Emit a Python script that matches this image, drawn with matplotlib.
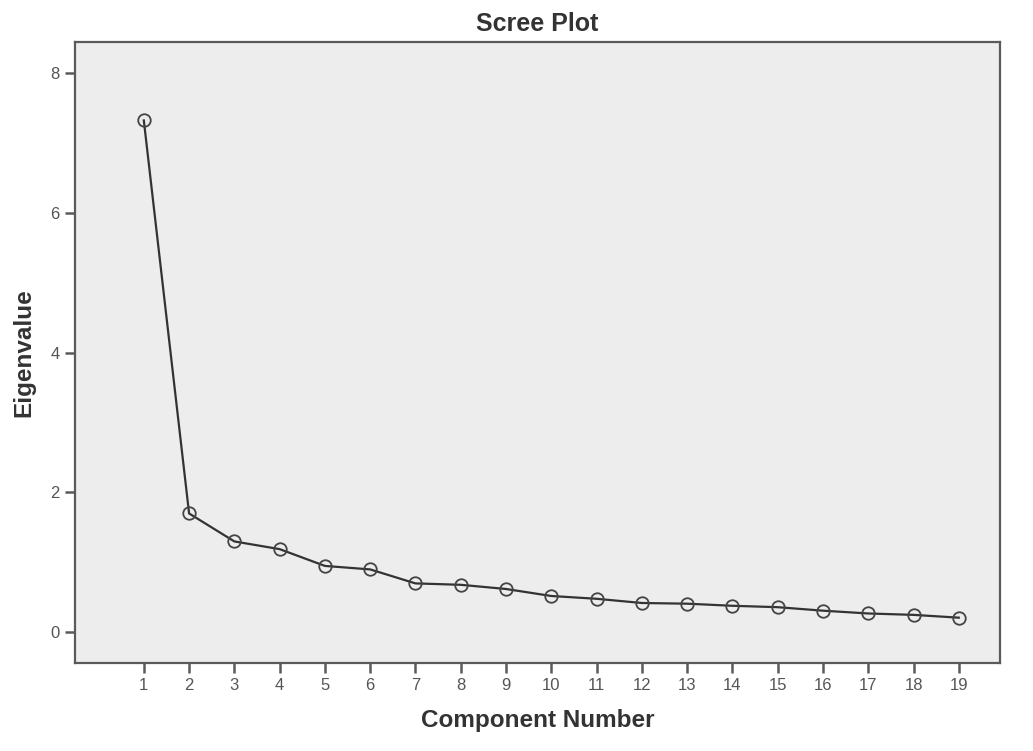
import matplotlib
matplotlib.use("Agg")
import matplotlib.pyplot as plt
import numpy as np

# Scree plot: eigenvalue per component
components = np.arange(1, 20)
eigenvalues = [7.32, 1.70, 1.30, 1.19, 0.95, 0.90, 0.70, 0.68, 0.62, 0.52,
               0.48, 0.42, 0.41, 0.38, 0.36, 0.31, 0.27, 0.25, 0.21]
y_ticks = [0, 2, 4, 6, 8]

plt.rcParams['font.family'] = ['Liberation Sans', 'DejaVu Sans']

fig = plt.figure(figsize=(10.33, 7.51), dpi=100)
ax = fig.add_axes([0.0726, 0.117, 0.895, 0.827])
ax.set_facecolor("#ededed")

ax.plot(components, eigenvalues, color="#333333", linewidth=1.6,
        marker="o", markersize=9, markerfacecolor="none",
        markeredgecolor="#444444", markeredgewidth=1.3)

ax.set_xlim(-0.52, 19.9)
ax.set_ylim(-0.44, 8.44)
ax.set_xticks(components)
ax.set_yticks(y_ticks)

for s in ax.spines.values():
    s.set_color("#5a5a5a")
    s.set_linewidth(1.6)

ax.tick_params(direction="out", length=7, width=1.8, color="#5a5a5a",
               labelsize=12, labelcolor="#555555", pad=4)

ax.set_title("Scree Plot", fontsize=18, fontweight="bold", color="#333333", pad=8)
ax.set_xlabel("Component Number", fontsize=17.5, fontweight="bold", color="#333333", labelpad=11)
ax.set_ylabel("Eigenvalue", fontsize=17.5, fontweight="bold", color="#333333", labelpad=11)

fig.savefig("out.png", dpi=100)
